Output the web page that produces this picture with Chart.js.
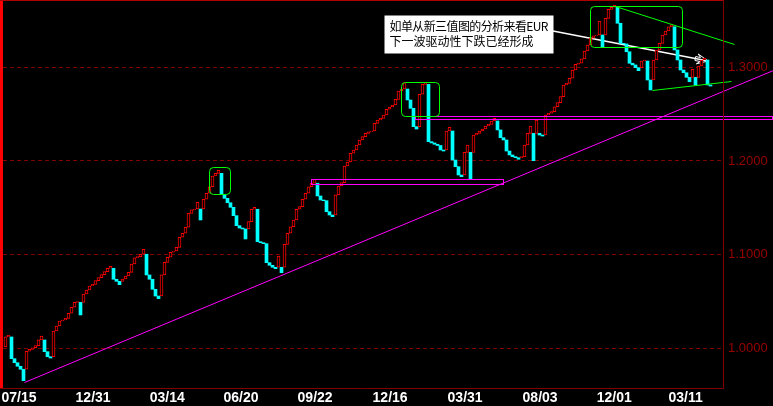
<!DOCTYPE html>
<html>
<head>
<meta charset="utf-8">
<script src="https://cdn.jsdelivr.net/npm/chart.js@4.4.1/dist/chart.umd.min.js"></script>
<style>
  html, body { margin: 0; padding: 0; background: #000; }
  canvas { display: block; }
</style>
</head>
<body>
<canvas id="breakChart" width="773" height="406"></canvas>
<script>
// three line break closes, one per brick (EUR)
const startLevel = 1.0014;
const closes = [
  1.0121, 1.0137, 0.9889, 0.9846, 0.9808, 0.9776, 0.9654, 0.9968, 0.9989, 1.0006,
  1.0028, 1.0089, 1.0131, 0.9964, 0.9910, 0.9896, 1.0185, 1.0238, 1.0291, 1.0302,
  1.0320, 1.0374, 1.0438, 1.0491, 1.0498, 1.0356, 1.0580, 1.0622, 1.0665, 1.0683,
  1.0722, 1.0754, 1.0786, 1.0818, 1.0854, 1.0875, 1.0737, 1.0715, 1.0679, 1.0740,
  1.0772, 1.0811, 1.0900, 1.0967, 1.0978, 1.1004, 1.1057, 1.0783, 1.0737, 1.0630,
  1.0558, 1.0530, 1.0783, 1.0918, 1.0972, 1.1025, 1.1039, 1.1078, 1.1185, 1.1228,
  1.1292, 1.1441, 1.1477, 1.1487, 1.1559, 1.1370, 1.1591, 1.1655, 1.1725, 1.1839,
  1.1868, 1.1900, 1.1644, 1.1601, 1.1554, 1.1505, 1.1416, 1.1309, 1.1284, 1.1274,
  1.1167, 1.1352, 1.1484, 1.1505, 1.1138, 1.1127, 1.1117, 1.0914, 1.0886, 1.0865,
  1.0850, 1.0985, 1.0807, 1.1110, 1.1228, 1.1298, 1.1370, 1.1484, 1.1512, 1.1591,
  1.1655, 1.1725, 1.1762, 1.1804, 1.1626, 1.1583, 1.1576, 1.1458, 1.1423, 1.1405,
  1.1637, 1.1733, 1.1768, 1.1946, 1.1989, 1.2082, 1.2117, 1.2170, 1.2224, 1.2259,
  1.2295, 1.2312, 1.2320, 1.2402, 1.2437, 1.2455, 1.2491, 1.2552, 1.2576, 1.2597,
  1.2658, 1.2747, 1.2768, 1.2838, 1.2651, 1.2562, 1.2366, 1.2341, 1.2712, 1.2818,
  1.2832, 1.2206, 1.2192, 1.2178, 1.2165, 1.2117, 1.2106, 1.2320, 1.2359, 1.2010,
  1.1939, 1.1850, 1.1832, 1.2092, 1.2170, 1.1807, 1.2277, 1.2295, 1.2320, 1.2341,
  1.2373, 1.2391, 1.2427, 1.2455, 1.2331, 1.2248, 1.2224, 1.2106, 1.2064, 1.2046,
  1.2035, 1.2018, 1.2046, 1.2170, 1.2295, 1.2373, 1.2003, 1.2437, 1.2277, 1.2266,
  1.2491, 1.2509, 1.2526, 1.2579, 1.2622, 1.2686, 1.2811, 1.2829, 1.2883, 1.2971,
  1.3032, 1.3043, 1.3089, 1.3174, 1.3238, 1.3310, 1.3337, 1.3345, 1.3494, 1.3220,
  1.3523, 1.3619, 1.3641, 1.3665, 1.3470, 1.3256, 1.3249, 1.3166, 1.3043, 1.3025,
  1.2996, 1.2964, 1.3067, 1.3078, 1.2864, 1.2758, 1.3078, 1.3185, 1.3256, 1.3345,
  1.3387, 1.3433, 1.3452, 1.3185, 1.3078, 1.2971, 1.2942, 1.2893, 1.2846, 1.2979,
  1.2811, 1.3014, 1.3078, 1.3096, 1.2811, 1.2800
];

// date labels under the chart and the brick they sit under
const tickLabels = ['07/15', '12/31', '03/14', '06/20', '09/22', '12/16', '03/31', '08/03', '12/01', '03/11'];
const tickIdx = [4.5, 29.2, 53.9, 78.5, 103.2, 128.2, 153.2, 178.2, 202.9, 226.7];
const yTicks = [1.0, 1.1, 1.2, 1.3];
const yMin = 0.9576, yMax = 1.3697;

// drawn notes, in (brick index, price)
const supportLine = [[6.2, 0.9643], [255.9, 1.2966]];
const zoneBoxes = [[136.5, 1.2480, 255.5, 1.2443], [101.9, 1.1807, 165.9, 1.1751]];
const peakBoxes = [[67.9, 1.1940, 74.8, 1.1645], [132.0, 1.2840, 144.4, 1.2483], [194.9, 1.3654, 225.4, 1.3220]];
const channelTop = [[203.2, 1.3658], [242.9, 1.3248]];
const channelBottom = [[215.4, 1.2758], [241.8, 1.2857]];
const arrowLine = [[182.5, 1.3387], [234.2, 1.3067]];
const noteBox = [126.2, 1.3558, 182.6, 1.3156];
const noteLines = ['如单从新三值图的分析来看EUR', '下一波驱动性下跌已经形成'];

// build bricks: reversal bricks start from the open of the previous brick
const upBricks = [], downBricks = [];
let prevOpen = startLevel, prevClose = startLevel, prevDir = 1;
closes.forEach((c, i) => {
    const dir = c > prevClose ? 1 : -1;
    const open = (dir === prevDir) ? prevClose : prevOpen;
    (dir > 0 ? upBricks : downBricks).push({ x: i, y: [open, c] });
    prevOpen = open; prevClose = c; prevDir = dir;
});

const frame = {
    id: 'frame',
    beforeDraw(chart) {
        const ctx = chart.ctx;
        ctx.save();
        ctx.fillStyle = '#000';
        ctx.fillRect(0, 0, chart.width, chart.height);
        ctx.restore();
    },
    beforeDatasetsDraw(chart) {
        // white pointer line sits behind the bricks
        const ctx = chart.ctx, xs = chart.scales.x, ys = chart.scales.y;
        const px = p => [xs.getPixelForValue(p[0]), ys.getPixelForValue(p[1])];
        const a = px(arrowLine[0]), b = px(arrowLine[1]);
        const c = Math.cos(Math.atan2(b[1] - a[1], b[0] - a[0]));
        const s = Math.sin(Math.atan2(b[1] - a[1], b[0] - a[0]));
        const pt = (back, side) => [b[0] - back * c + side * s, b[1] - back * s - side * c];
        ctx.save();
        ctx.strokeStyle = '#fff';
        ctx.lineWidth = 1.5;
        ctx.beginPath(); ctx.moveTo(a[0], a[1]); ctx.lineTo(b[0], b[1]); ctx.stroke();
        ctx.lineWidth = 1;
        ctx.beginPath();
        ctx.moveTo(b[0], b[1]);
        [[11, 5], [8, 2], [13, 2], [13, -2], [8, -2], [11, -5]].forEach(q => {
            const p = pt(q[0], q[1]);
            ctx.lineTo(p[0], p[1]);
        });
        ctx.closePath();
        ctx.stroke();
        ctx.restore();
    },
    afterDatasetsDraw(chart) {
        const ctx = chart.ctx, xs = chart.scales.x, ys = chart.scales.y;
        const X = v => Math.round(xs.getPixelForValue(v)) + 0.5;
        const Y = v => Math.round(ys.getPixelForValue(v)) + 0.5;
        ctx.save();
        ctx.lineWidth = 1;

        // magenta support line and zones
        ctx.strokeStyle = '#ff00ff';
        ctx.beginPath();
        ctx.moveTo(X(supportLine[0][0]), Y(supportLine[0][1]));
        ctx.lineTo(X(supportLine[1][0]), Y(supportLine[1][1]));
        ctx.stroke();
        zoneBoxes.forEach(b => {
            ctx.strokeRect(X(b[0]), Y(b[1]), X(b[2]) - X(b[0]), Y(b[3]) - Y(b[1]));
        });

        // green boxes and channel
        ctx.strokeStyle = '#00ff00';
        peakBoxes.forEach(b => {
            ctx.beginPath();
            ctx.roundRect(X(b[0]), Y(b[1]), X(b[2]) - X(b[0]), Y(b[3]) - Y(b[1]), 4);
            ctx.stroke();
        });
        [channelTop, channelBottom].forEach(l => {
            ctx.beginPath();
            ctx.moveTo(X(l[0][0]), Y(l[0][1]));
            ctx.lineTo(X(l[1][0]), Y(l[1][1]));
            ctx.stroke();
        });

        // note
        const nx = X(noteBox[0]), ny = Y(noteBox[1]);
        ctx.fillStyle = '#fff';
        ctx.fillRect(nx, ny, X(noteBox[2]) - nx, Y(noteBox[3]) - ny);
        ctx.fillStyle = '#000';
        ctx.font = '12px "Noto Sans CJK SC", sans-serif';
        ctx.textBaseline = 'middle';
        noteLines.forEach((t, i) => {
            ctx.letterSpacing = i === 0 ? '-0.6px' : '0px';
            ctx.fillText(t, nx + 5, ny + 11 + i * 15);
        });
        ctx.letterSpacing = '0px';

        // frame
        const ca = chart.chartArea;
        ctx.fillStyle = '#ff0000';
        ctx.fillRect(0, 0, ca.left, ca.bottom);
        ctx.fillStyle = '#b00000';
        ctx.fillRect(0, 0, ca.right, 1);
        ctx.strokeStyle = '#800000';
        ctx.beginPath();
        ctx.moveTo(Math.round(ca.right) + 0.5, 0);
        ctx.lineTo(Math.round(ca.right) + 0.5, ca.bottom + 0.5);
        ctx.lineTo(0, ca.bottom + 0.5);
        ctx.stroke();
        ctx.restore();
    }
};

const ctx = document.getElementById('breakChart').getContext('2d');
const breakChart = new Chart(ctx, {
    type: 'bar',
    data: {
        datasets: [{
            label: 'up',
            data: upBricks,
            backgroundColor: '#000000',
            borderColor: '#ff0000',
            borderWidth: 1,
            borderSkipped: false,
            barThickness: 3
        }, {
            label: 'down',
            data: downBricks,
            backgroundColor: '#00ffff',
            borderWidth: 0,
            barThickness: 3
        }]
    },
    options: {
        responsive: false,
        animation: false,
        devicePixelRatio: 1,
        layout: { padding: { top: 2, left: 3, right: 0, bottom: 0 } },
        plugins: { legend: { display: false }, tooltip: { enabled: false } },
        datasets: { bar: { grouped: false } },
        scales: {
            x: {
                type: 'linear',
                offset: false,
                min: -0.8333,
                max: 239.1667,
                grid: { display: false, drawTicks: false, offset: false },
                border: { display: false },
                afterBuildTicks: scale => { scale.ticks = tickIdx.map(v => ({ value: v })); },
                afterFit: scale => {
                    scale.height = 18;
                    scale.paddingLeft = 0;
                    scale.paddingRight = 0;
                },
                ticks: {
                    autoSkip: false,
                    maxRotation: 0,
                    padding: 2,
                    color: '#ffffff',
                    font: { family: '"Liberation Sans", sans-serif', size: 14, weight: 'bold' },
                    callback: (v, i) => tickLabels[i]
                }
            },
            y: {
                position: 'right',
                min: yMin,
                max: yMax,
                grid: { color: '#800000', drawTicks: false },
                border: { display: false, dash: [4, 3] },
                afterBuildTicks: scale => { scale.ticks = yTicks.map(v => ({ value: v })); },
                afterFit: scale => {
                    scale.width = 50;
                    scale.paddingTop = 0;
                    scale.paddingBottom = 0;
                },
                ticks: {
                    padding: 5,
                    color: '#990000',
                    font: { family: '"Liberation Sans", sans-serif', size: 13 },
                    callback: v => v.toFixed(4)
                }
            }
        }
    },
    plugins: [frame]
});
</script>
</body>
</html>
